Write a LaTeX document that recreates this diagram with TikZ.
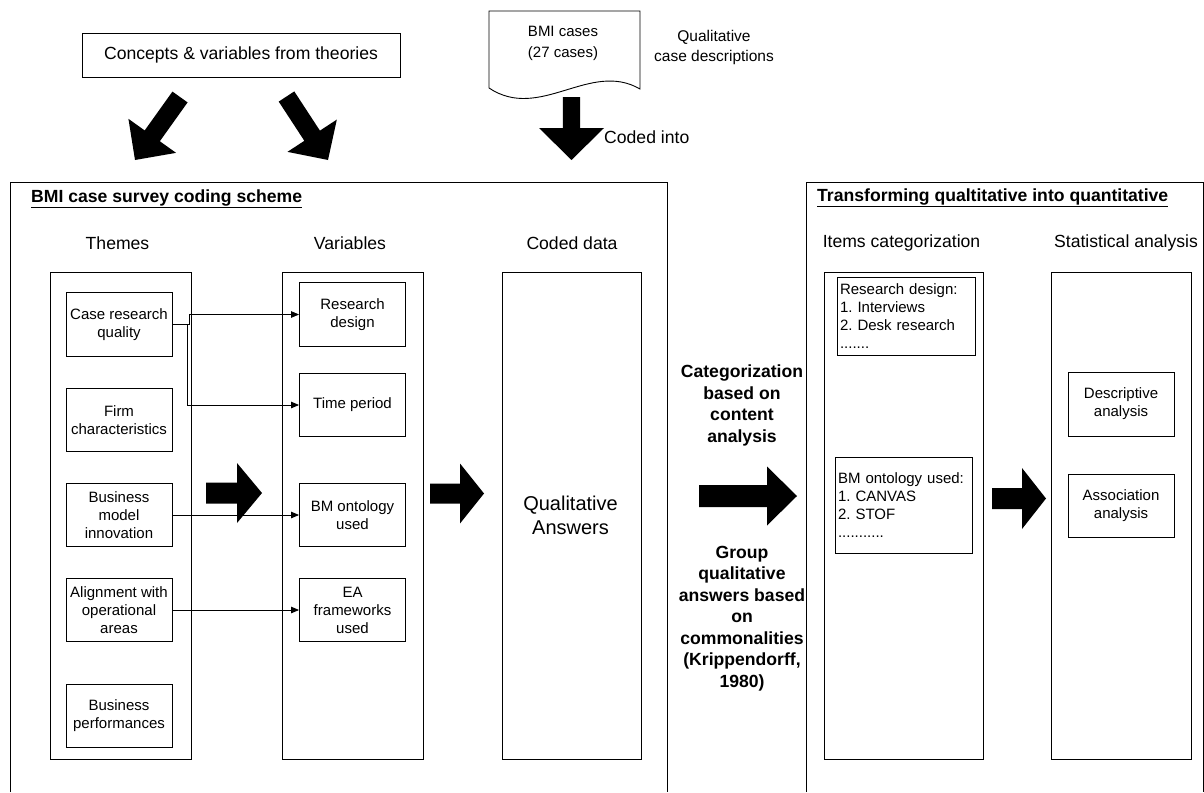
\documentclass[tikz,border=0pt]{standalone}
\usepackage{fontspec}
\setmainfont{Liberation Sans}
\usetikzlibrary{calc,arrows.meta}
\frenchspacing

\newcommand\smallfont{\fontsize{15}{18}\selectfont}
\newcommand\bigfont{\fontsize{17.6}{21.5}\selectfont}

% Filled block arrow from tail #1 to tip #2:
% shaft half-width #3, head half-width #4, head length #5
\newcommand\blockarrow[5]{%
  \coordinate (ba-h) at ($(#2)!#5!(#1)$);
  \fill ($(#1)!#3!90:(#2)$) -- ($(ba-h)!#3!-90:(#1)$) -- ($(ba-h)!#4!-90:(#1)$)
    -- (#2) -- ($(ba-h)!#4!90:(#1)$) -- ($(ba-h)!#3!90:(#1)$)
    -- ($(#1)!#3!-90:(#2)$) -- cycle;}

\begin{document}
\begin{tikzpicture}[x=1pt,y=-1pt,
  box/.style={draw, line width=0.9pt, inner sep=0pt, align=center, font=\smallfont},
  colbox/.style={draw, line width=0.9pt, inner sep=0pt, minimum height=487pt},
  listbox/.style={draw, line width=0.9pt, inner xsep=3pt, inner ysep=0pt, align=left, font=\smallfont},
  lbl/.style={inner sep=0pt, font=\bigfont},
  boldlbl/.style={inner sep=0pt, align=center, font=\bigfont\bfseries},
  conn/.style={line width=0.8pt, -{Triangle[length=8pt,width=6.5pt]}}]
\useasboundingbox (0,0) rectangle (1204,792);

% ---------- sources ----------
\node[box, font=\bigfont, minimum width=318pt, minimum height=44pt] (concepts) at (241,55)
  {Concepts \& variables from theories};

\draw[line width=0.9pt] (489,88) -- (489,11) -- (640,11) -- (640,89)
  .. controls (590,60) and (540,122) .. (489,88);
\node[font=\fontsize{15}{21}\selectfont, align=center, inner sep=0pt] (cases) at (563,43)
  {BMI cases\\(27 cases)};
\node[font=\fontsize{15.5}{20}\selectfont, align=center, inner sep=0pt] (qcd) at (714,47)
  {Qualitative\\case descriptions};
\node[lbl, anchor=west] (codedinto) at (604,137) {Coded into};

% ---------- block arrows ----------
\coordinate (a1t) at (180,97);    \coordinate (a1p) at (135,160);
\coordinate (a2t) at (286.5,96.5);\coordinate (a2p) at (328,160);
\coordinate (a3t) at (571.5,97);  \coordinate (a3p) at (571.5,160);
\coordinate (a4t) at (206,493);   \coordinate (a4p) at (262,493);
\coordinate (a5t) at (430,493.5); \coordinate (a5p) at (484,493.5);
\coordinate (a6t) at (699,496);   \coordinate (a6p) at (797,496);
\coordinate (a7t) at (992,498.5); \coordinate (a7p) at (1046,498.5);
\blockarrow{a1t}{a1p}{9.3pt}{29.3pt}{29.7pt}
\blockarrow{a2t}{a2p}{9.3pt}{29.5pt}{29pt}
\blockarrow{a3t}{a3p}{8.7pt}{32.5pt}{32pt}
\blockarrow{a4t}{a4p}{10.5pt}{30pt}{25pt}
\blockarrow{a5t}{a5p}{10pt}{30pt}{24pt}
\blockarrow{a6t}{a6p}{11pt}{29.5pt}{30pt}
\blockarrow{a7t}{a7p}{10.5pt}{30.5pt}{24pt}

% ---------- coding scheme group ----------
\draw[line width=0.9pt] (10,792) |- (667,182) -- (667,792);
\node[inner sep=0pt, anchor=west, font=\bigfont\bfseries] (t1) at (31,199)
  {\underline{BMI case survey coding scheme}};
\node[lbl] (themeslbl) at (117.5,243) {Themes};
\node[lbl] (varslbl) at (350,243) {Variables};
\node[lbl] (codedlbl) at (572,243) {Coded data};

\node[colbox, minimum width=141pt] (themescol) at (120.5,515.5) {};
\node[colbox, minimum width=141pt] (varscol) at (352.5,515.5) {};
\node[colbox, minimum width=139pt] (codedcol) at (571.5,515.5) {};

\begin{scope}[every node/.append style={box, minimum width=106pt, minimum height=63.5pt}]
\node (crq) at (119,324.5) {Case research\\quality};
\node (firm) at (119,420) {Firm\\characteristics};
\node (bmi) at (119,515) {Business\\model\\innovation};
\node (align) at (119,610) {Alignment with\\operational\\areas};
\node (perf) at (119,716) {Business\\performances};
\node (rd) at (352.5,314.5) {Research\\design};
\node (tp) at (352.5,405) {Time period};
\node (bmo) at (352.5,515) {BM ontology\\used};
\node (ea) at (352.5,610) {EA\\frameworks\\used};
\end{scope}

\draw[conn] (crq.east) -- ++(16.5,0) |- (rd.west);
\draw[conn] (crq.east) -- ++(15,0) |- (tp.west);
\draw[conn] (bmi.east) -- (bmo.west);
\draw[conn] (align.east) -- (ea.west);

\node[inner sep=0pt, align=center, font=\fontsize{20}{24}\selectfont] (qa) at (570.5,515)
  {Qualitative\\Answers};

% ---------- middle labels ----------
\node[boldlbl] (catlbl) at (742,405.5) {Categorization\\based on\\content\\analysis};
\node[boldlbl] (grouplbl) at (742,618.5)
  {Group\\qualitative\\answers based\\on\\commonalities\\(Krippendorff,\\1980)};

% ---------- transformation group ----------
\draw[line width=0.9pt] (806,792) |- (1203,182) -- (1203,792);
\node[inner sep=0pt, anchor=west, font=\bigfont\bfseries] (t2) at (817,198)
  {\underline{Transforming qualtitative into quantitative}};
\node[lbl] (itemslbl) at (901.5,243) {Items categorization};
\node[lbl] (statslbl) at (1126,243) {Statistical analysis};

\node[colbox, minimum width=159pt] (itemscol) at (903.5,515.5) {};
\node[colbox, minimum width=140pt] (statscol) at (1121,515.5) {};

\node[listbox, text width=132pt, minimum height=78pt] (rdlist) at (906,316)
  {Research design:\\1. Interviews\\2. Desk research\\.......};
\node[listbox, text width=131pt, minimum height=96pt] (bmlist) at (903.5,505)
  {BM ontology used:\\1. CANVAS\\2. STOF\\...........};

\node[box, minimum width=106pt, minimum height=64pt] (desc) at (1121,404)
  {Descriptive\\analysis};
\node[box, minimum width=106pt, minimum height=63pt] (assoc) at (1121,505.5)
  {Association\\analysis};

\end{tikzpicture}
\end{document}
